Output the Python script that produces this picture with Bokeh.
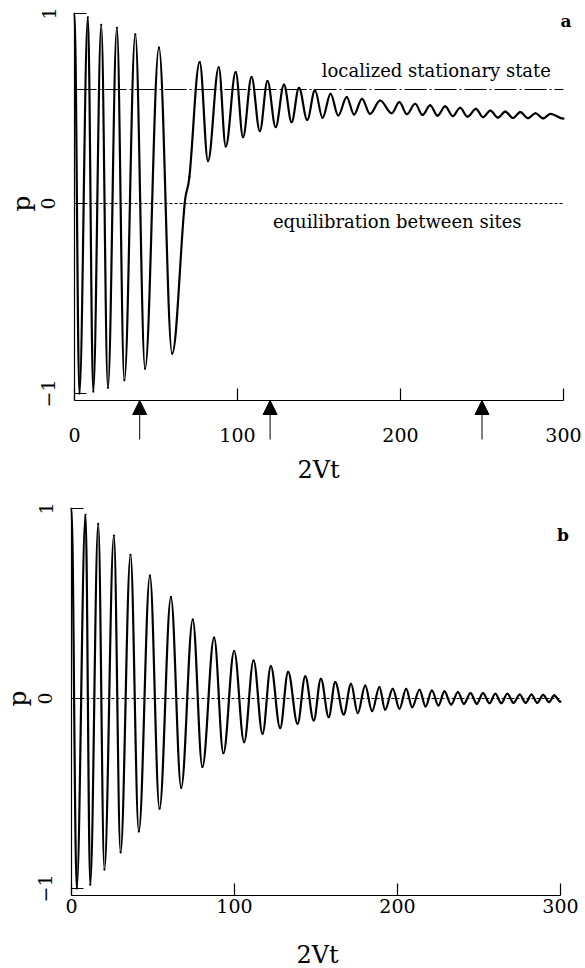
import numpy as np
from bokeh.plotting import figure
from bokeh.layouts import column
from bokeh.models import (FixedTicker, Label, Arrow, NormalHead,
                          ColumnDataSource, Range1d)
from bokeh.embed import file_html
from bokeh.resources import INLINE

# ---------------- data ----------------
# panel a: turning points of p(t)
a_t = [0, 3.0, 8.2, 11.5, 16.4, 20.5, 26.0, 30.6, 37.3, 43.3, 51.8, 59.9,
       67.6, 70.5,
       76.8, 81.9, 88.5, 92.8, 98.9, 103.4, 108.6, 113.7, 118.4, 123.4,
       128.5, 133.2, 137.7, 142.8, 147.5, 152.2, 157.1, 161.8, 167.0, 171.5,
       176.4, 181.3, 187.5, 194.6, 199.3, 203.9, 209.0, 213.5, 218.2, 222.7,
       227.4, 232.1, 236.6, 241.1, 246.3, 250.6, 255.1, 259.8, 264.3, 269.0,
       273.5, 278.2, 282.8, 287.5, 292.0, 300.0]
a_p = [1.0, -1.0, 0.98, -0.99, 0.94, -0.97, 0.925, -0.93, 0.89, -0.87, 0.82, -0.79,
       0.0, 0.14,
       0.744, 0.223, 0.717, 0.30, 0.691, 0.349, 0.665, 0.381, 0.644, 0.402,
       0.626, 0.428, 0.609, 0.44, 0.595, 0.451, 0.577, 0.463, 0.56, 0.468,
       0.551, 0.472, 0.542, 0.475, 0.533, 0.47, 0.525, 0.466, 0.516, 0.462,
       0.511, 0.46, 0.504, 0.457, 0.498, 0.454, 0.489, 0.452, 0.484, 0.45,
       0.481, 0.449, 0.475, 0.448, 0.472, 0.447]

# panel b: turning points of p(t)
b_t = [0, 3.2, 8.6, 11.5, 16.4, 20.2, 26.0, 30.1, 36.2, 41.3, 48.1, 54.0,
       61.0, 67.3, 74.4, 80.3, 87.5, 93.2, 99.8, 105.9, 111.7, 117.2, 122.3,
       128.0, 132.9, 138.7, 143.4, 148.6, 153.0, 157.8, 161.8, 167.0, 171.5,
       175.6, 180.2, 184.4, 188.9, 192.4, 197.1, 201.2, 205.3, 209.0, 213.5,
       217.2, 221.1, 225.1, 228.8, 232.9, 237.1, 240.7, 244.8, 248.7, 252.4,
       256.5, 260.0, 263.7, 267.4, 271.2, 275.0, 278.6, 282.2, 285.8, 289.3,
       293.0, 296.1, 300.0]
b_p = [1.0, -1.0, 0.967, -0.98, 0.919, -0.90, 0.858, -0.81, 0.756, -0.70, 0.647, -0.58,
       0.533, -0.47, 0.415, -0.36, 0.32, -0.288, 0.25, -0.23, 0.20, -0.186, 0.17,
       -0.156, 0.14, -0.133, 0.116, -0.116, 0.104, -0.098, 0.086, -0.084, 0.077,
       -0.077, 0.068, -0.067, 0.06, -0.059, 0.051, -0.054, 0.051, -0.046, 0.046,
       -0.042, 0.042, -0.037, 0.037, -0.032, 0.033, -0.028, 0.028, -0.028, 0.028,
       -0.025, 0.025, -0.025, 0.025, -0.023, 0.021, -0.023, 0.021, -0.023, 0.019,
       -0.019, 0.016, -0.017]

x_ticks = [0, 100, 200, 300]
y_ticks = [-1, 0, 1]
y_tick_text = {-1: "\u22121", 0: "0", 1: "1"}
localized_level = 0.6
equilibration_level = 0.0
arrow_t = [40, 120, 250]

FONT = "DejaVu Serif"
W = 585
Y_LOW = -1.037          # p value at the x axis line


def bezier_source(t, p, k=0.36):
    t = np.asarray(t, float)
    p = np.asarray(p, float)
    n = len(t)
    m = np.zeros(n)
    for i in range(1, n - 1):
        if (p[i] - p[i - 1]) * (p[i + 1] - p[i]) > 0:
            m[i] = (p[i + 1] - p[i - 1]) / (t[i + 1] - t[i - 1])
    dt = np.diff(t)
    return ColumnDataSource(dict(
        x0=t[:-1], y0=p[:-1], x1=t[1:], y1=p[1:],
        cx0=t[:-1] + k * dt, cy0=p[:-1] + m[:-1] * k * dt,
        cx1=t[1:] - k * dt, cy1=p[1:] - m[1:] * k * dt))


def panel(t, p, H, x0_px, x300_px, top_px, axis_px, xlab_standoff,
          xlabel_px, ylabel_px, letter, letter_py):
    """Whole canvas is the frame; axes sit at fixed data locations."""
    ppx = (x300_px - x0_px) / 300.0
    ppy = (axis_px - top_px) / (1.0 - Y_LOW)
    xr = Range1d(-x0_px / ppx, (W - x0_px) / ppx)
    yr = Range1d(1.0 - (H - top_px) / ppy, 1.0 + top_px / ppy)
    f = figure(width=W, height=H, x_range=xr, y_range=yr,
               output_backend="svg", toolbar_location=None,
               min_border=0, min_border_left=0, min_border_right=0,
               min_border_top=0, min_border_bottom=0)
    f.outline_line_color = None
    f.grid.visible = False

    f.xaxis.ticker = FixedTicker(ticks=x_ticks)
    f.xaxis.bounds = (x_ticks[0], x_ticks[-1])
    f.xaxis.fixed_location = Y_LOW
    f.yaxis.ticker = FixedTicker(ticks=y_ticks)
    f.yaxis.bounds = (Y_LOW, y_ticks[-1])
    f.yaxis.fixed_location = x_ticks[0]
    f.yaxis.major_label_overrides = y_tick_text
    for ax in (f.xaxis[0], f.yaxis[0]):
        ax.major_tick_in = 12
        ax.major_tick_out = 0
        ax.minor_tick_line_color = None
        ax.axis_line_color = "black"
        ax.axis_line_width = 1.2
        ax.major_tick_line_width = 1.2
        ax.major_label_text_font = FONT
        ax.major_label_text_font_size = "19px"
        ax.major_label_text_color = "black"
    f.xaxis.major_label_standoff = xlab_standoff
    f.yaxis.major_label_orientation = "vertical"
    f.yaxis.major_label_standoff = 19

    # axis titles
    f.add_layout(Label(x=(xlabel_px[0] - x0_px) / ppx,
                       y=1.0 - (xlabel_px[1] - top_px) / ppy, text="2Vt",
                       text_align="center", text_baseline="middle",
                       text_font=FONT, text_font_size="24px",
                       text_color="black"))
    f.add_layout(Label(x=(ylabel_px[0] - x0_px) / ppx,
                       y=1.0 - (ylabel_px[1] - top_px) / ppy, text="p",
                       angle=np.pi / 2, text_align="center",
                       text_baseline="middle", text_font=FONT,
                       text_font_size="25px", text_color="black"))
    # panel letter
    f.add_layout(Label(x=301.5, y=letter_py, text=letter, text_align="center",
                       text_baseline="middle", text_font=FONT,
                       text_font_style="bold", text_font_size="17px",
                       text_color="black"))

    f.segment(x0=[x_ticks[0]], x1=[x_ticks[-1]], y0=[equilibration_level],
              y1=[equilibration_level], line_color="black", line_width=1,
              line_dash="3 2")
    f.bezier(x0="x0", y0="y0", x1="x1", y1="y1", cx0="cx0", cy0="cy0",
             cx1="cx1", cy1="cy1", source=bezier_source(t, p),
             line_color="black", line_width=2.2, line_cap="round")
    return f, ppy


# ---------------- panel a ----------------
pa, ppy_a = panel(a_t, a_p, H=495, x0_px=74, x300_px=563, top_px=13,
                  axis_px=400, xlab_standoff=27, xlabel_px=(318, 469),
                  ylabel_px=(21, 203), letter="a", letter_py=0.958)
pa.segment(x0=[x_ticks[0]], x1=[x_ticks[-1]], y0=[localized_level],
           y1=[localized_level], line_color="black", line_width=1,
           line_dash="22 3 2 3")
pa.add_layout(Label(x=222, y=0.70, text="localized stationary state",
                    text_align="center", text_baseline="alphabetic",
                    text_font=FONT, text_font_size="18px", text_color="black"))
pa.add_layout(Label(x=198, y=-0.095, text="equilibration between sites",
                    text_align="center", text_baseline="alphabetic",
                    text_font=FONT, text_font_size="18px", text_color="black"))
arrow_src = ColumnDataSource(dict(
    xs=arrow_t, xe=arrow_t,
    ys=[Y_LOW - 39 / ppy_a] * len(arrow_t),
    ye=[Y_LOW] * len(arrow_t)))
pa.add_layout(Arrow(source=arrow_src, x_start="xs", y_start="ys",
                    x_end="xe", y_end="ye", line_color="black", line_width=1,
                    end=NormalHead(size=14, fill_color="black",
                                   line_color="black", line_width=1)))

# ---------------- panel b ----------------
pb, _ = panel(b_t, b_p, H=473, x0_px=71, x300_px=560, top_px=13,
              axis_px=400, xlab_standoff=3, xlabel_px=(317, 459),
              ylabel_px=(17, 203), letter="b", letter_py=0.86)

layout = column(pa, pb, spacing=0)
open("out.html", "w").write(file_html(layout, INLINE))
